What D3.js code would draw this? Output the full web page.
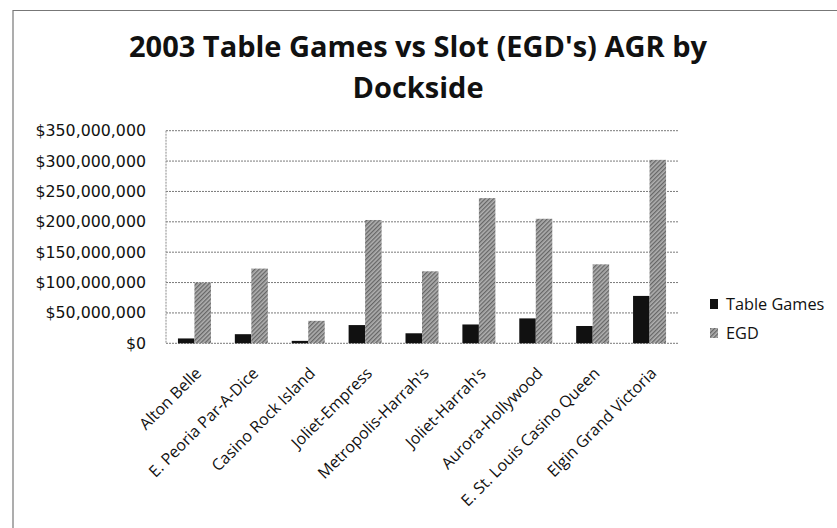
<!DOCTYPE html>
<html>
<head>
<meta charset="utf-8">
<script src="https://cdn.jsdelivr.net/npm/d3@7"></script>
<style>
  body { margin: 0; background: #fff; }
  svg { display: block; }
  text { font-family: "Open Sans", "Noto Sans", sans-serif; fill: #111; }
</style>
</head>
<body>
<svg id="chart" width="837" height="528"></svg>
<script>
const categories = ["Alton Belle", "E. Peoria Par-A-Dice", "Casino Rock Island", "Joliet-Empress",
  "Metropolis-Harrah's", "Joliet-Harrah's", "Aurora-Hollywood", "E. St. Louis Casino Queen", "Elgin Grand Victoria"];
const seriesNames = ["Table Games", "EGD"];
const tableGames = [8000000, 15000000, 4000000, 30000000, 16500000, 31000000, 41000000, 28500000, 78000000];
const egd = [100000000, 123000000, 37000000, 203000000, 118500000, 239000000, 205000000, 130000000, 302000000];
const yTicks = [0, 50000000, 100000000, 150000000, 200000000, 250000000, 300000000, 350000000];
const title = ["2003 Table Games vs Slot (EGD's) AGR by", "Dockside"];

const svg = d3.select("#chart");
const W = 837, H = 528;
const plot = { left: 166, right: 678, top: 130.7, bottom: 343.3 };

// defs: hatched pattern for EGD
const defs = svg.append("defs");
const pat = defs.append("pattern").attr("id", "hatch").attr("patternUnits", "userSpaceOnUse")
  .attr("width", 3).attr("height", 3).attr("patternTransform", "rotate(45)");
pat.append("rect").attr("width", 3).attr("height", 3).attr("fill", "#b0b0b0");
pat.append("rect").attr("width", 1.3).attr("height", 3).attr("fill", "#666");

// outer border (left and top)
svg.append("path").attr("d", `M13,${H} L13,10.5 L${W},10.5`).attr("fill", "none")
  .attr("stroke", "#777").attr("stroke-width", 1.2);

// title
const t = svg.append("text").attr("text-anchor", "middle").attr("font-weight", "bold").attr("font-size", 29);
t.selectAll("tspan").data(title).join("tspan").attr("x", 418).attr("y", (d, i) => 57 + i * 41).text(d => d);

const x0 = d3.scaleBand().domain(categories).range([plot.left, plot.right]).paddingInner(0.42).paddingOuter(0.21);
const x1 = d3.scaleBand().domain(seriesNames).range([0, x0.bandwidth()]);
const y = d3.scaleLinear().domain([0, 350000000]).range([plot.bottom, plot.top]);

// gridlines
svg.append("g").selectAll("line").data(yTicks).join("line")
  .attr("x1", plot.left).attr("x2", plot.right)
  .attr("y1", d => y(d)).attr("y2", d => y(d))
  .attr("stroke", "#7a7a7a").attr("stroke-width", 1).attr("stroke-dasharray", "2,1");
// y axis line
svg.append("line").attr("x1", plot.left).attr("x2", plot.left).attr("y1", plot.top).attr("y2", plot.bottom)
  .attr("stroke", "#8a8a8a").attr("stroke-dasharray", "2,1");

// y axis labels
const fmt = d => "$" + d3.format(",")(d);
const yAxis = d3.axisLeft(y).tickValues(yTicks).tickFormat(fmt).tickSize(0).tickPadding(20);
const ya = svg.append("g").attr("transform", `translate(${plot.left},0)`).call(yAxis);
ya.select(".domain").remove();
ya.selectAll("text").attr("font-size", 15.8).attr("fill", "#111")
  .style("font-family", '"DejaVu Sans", sans-serif');

// bars
const data = categories.map((c, i) => ({ c, vals: [tableGames[i], egd[i]] }));
const groups = svg.append("g").selectAll("g").data(data).join("g")
  .attr("transform", d => `translate(${x0(d.c)},0)`);
groups.selectAll("rect").data(d => d.vals.map((v, j) => ({ v, s: seriesNames[j] }))).join("rect")
  .attr("x", d => x1(d.s)).attr("width", x1.bandwidth())
  .attr("y", d => y(d.v)).attr("height", d => y(0) - y(d.v))
  .attr("fill", d => d.s === "EGD" ? "url(#hatch)" : "#111");

// x labels
const xAxis = d3.axisBottom(x0).tickSize(0).tickPadding(0);
const xa = svg.append("g").attr("transform", `translate(0,${plot.bottom})`).call(xAxis);
xa.select(".domain").remove();
xa.selectAll("text").attr("font-size", 16).attr("fill", "#111")
  .style("font-family", '"Open Sans", sans-serif')
  .attr("text-anchor", "end").attr("dy", null).attr("y", 0)
  .attr("transform", "translate(8,31) rotate(-45)");

// legend
const lg = svg.append("g").attr("transform", "translate(710,0)");
const li = lg.selectAll("g").data(seriesNames).join("g").attr("transform", (d, i) => `translate(0,${299 + i * 29})`);
li.append("rect").attr("width", 8).attr("height", 10).attr("fill", d => d === "EGD" ? "url(#hatch)" : "#111");
li.append("text").attr("x", 16).attr("y", 11).attr("font-size", 16.3).text(d => d);
</script>
</body>
</html>
